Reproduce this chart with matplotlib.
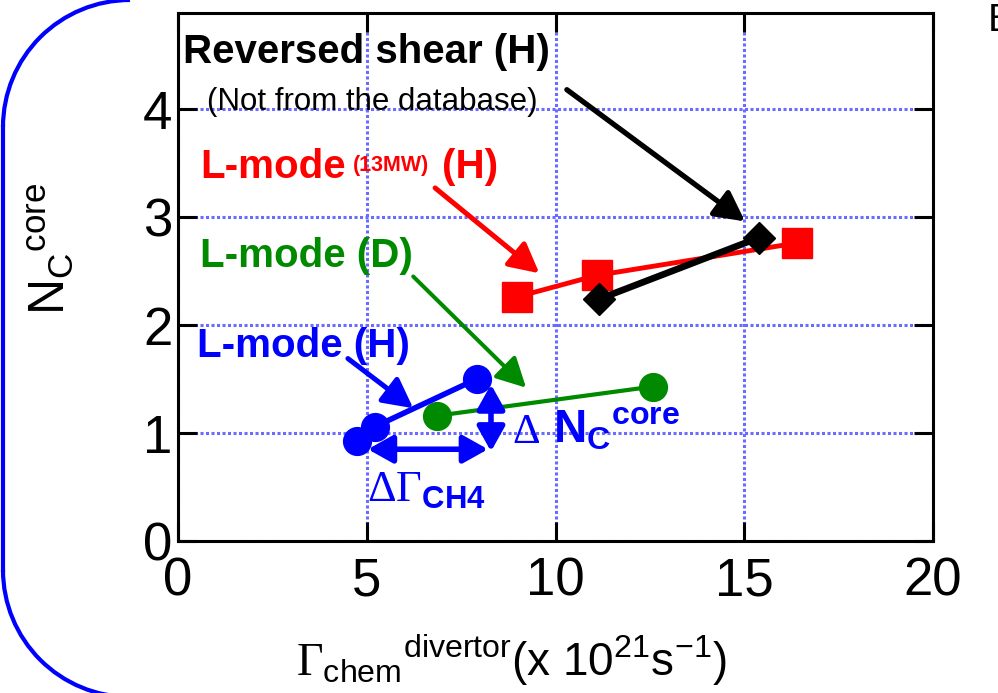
import matplotlib
matplotlib.use('Agg')
import matplotlib.pyplot as plt
from matplotlib.patches import Arc
from matplotlib.lines import Line2D

plt.rcParams['font.family'] = ['Liberation Sans', 'DejaVu Sans']
plt.rcParams['mathtext.fontset'] = 'custom'
plt.rcParams['mathtext.rm'] = 'Liberation Sans'
plt.rcParams['mathtext.bf'] = 'Liberation Sans:bold'
plt.rcParams['mathtext.it'] = 'Liberation Sans:italic'
plt.rcParams['mathtext.sf'] = 'Liberation Serif'

# chemical sputtering flux at divertor (1e21 /s) vs core carbon density
lh_gamma = [4.73, 5.22, 7.91]       # L-mode, H
lh_nc = [0.93, 1.06, 1.50]
ld_gamma = [6.85, 12.57]            # L-mode, D
ld_nc = [1.16, 1.43]
l13_gamma = [8.97, 11.09, 16.39]    # L-mode 13MW, H
l13_nc = [2.26, 2.46, 2.76]
rs_gamma = [11.15, 15.39]           # reversed shear, H
rs_nc = [2.24, 2.81]

x_ticks = [0, 5, 10, 15, 20]
y_ticks = [0, 1, 2, 3, 4]

BLUE = '#0000ff'
GREEN = '#008a00'
RED = '#ff0000'
GRID = '#6b6bff'

fig = plt.figure(figsize=(9.98, 6.93), dpi=100)
ax = fig.add_axes([0.1784, 0.2193, 0.7565, 0.7619])

ax.plot(ld_gamma, ld_nc, '-o', color=GREEN, lw=3, ms=20, zorder=3)
ax.plot(lh_gamma, lh_nc, '-o', color=BLUE, lw=4, ms=20, zorder=4)
ax.plot(l13_gamma, l13_nc, '-s', color=RED, lw=3.5, ms=21, zorder=3)
ax.plot(rs_gamma, rs_nc, '-D', color='black', lw=4.8, ms=16.5, zorder=4)

ax.set_xlim(0, 20)
ax.set_ylim(0, 4.89)
ax.set_xticks(x_ticks)
ax.set_yticks(y_ticks)
ax.tick_params(direction='in', length=14, width=2.2, top=True, right=True,
               labelsize=38)
ax.tick_params(axis='x', pad=11)
ax.tick_params(axis='y', pad=4)
for sp in ax.spines.values():
    sp.set_linewidth(2.2)
ax.grid(True, color=GRID, lw=2.2, ls=(0, (1, 0.8)))
ax.set_axisbelow(True)

ax.set_xlabel(r'$\mathsf{\Gamma}_\mathrm{chem}{}^\mathrm{divertor}$(x 10$^\mathrm{21}$s$^\mathrm{-1}$)',
              fontsize=33)
ax.xaxis.set_label_coords(0.4417, -0.174)
ax.set_ylabel(r'$\mathrm{N_C{}^{core}}$', fontsize=36)
ax.yaxis.set_label_coords(-0.135, 0.553)


def arrow(tail, tip, color, lw, style='-|>', hl=0.9, hw=0.47):
    ax.annotate('', xy=tip, xytext=tail,
                arrowprops=dict(arrowstyle=f'{style},head_length={hl},head_width={hw}',
                                color=color, lw=lw, shrinkA=0, shrinkB=0,
                                mutation_scale=20),
                zorder=5)


# labels and pointers for each series
ax.text(0.13, 4.43, 'Reversed shear (H)', fontsize=29, fontweight='bold')
ax.text(0.77, 3.99, '(Not from the database)', fontsize=22.5)
arrow((10.30, 4.18), (15.02, 2.96), 'black', 3.8)

ax.text(0.58, 3.36, 'L-mode', fontsize=29, fontweight='bold', color=RED)
ax.text(4.64, 3.43, '(13MW)', fontsize=15.5, fontweight='bold', color=RED)
ax.text(6.99, 3.36, '(H)', fontsize=29, fontweight='bold', color=RED)
arrow((6.81, 3.27), (9.57, 2.48), RED, 3.6)

ax.text(0.58, 2.54, 'L-mode (D)', fontsize=29, fontweight='bold', color=GREEN)
arrow((6.23, 2.45), (9.22, 1.42), GREEN, 2.9)

ax.text(0.50, 1.70, 'L-mode (H)', fontsize=29, fontweight='bold', color=BLUE)
arrow((4.50, 1.69), (6.23, 1.23), BLUE, 3.6)

# change in core carbon and in methane flux
arrow((8.29, 0.83), (8.29, 1.45), BLUE, 4, style='<|-|>', hl=0.75, hw=0.42)
arrow((5.03, 0.85), (8.21, 0.85), BLUE, 4, style='<|-|>', hl=0.75, hw=0.42)
ax.text(8.85, 0.91, '\u0394', fontsize=31, family='Liberation Serif', color=BLUE)
ax.text(9.93, 0.91, r'$\mathbf{N_C{}^{core}}$', fontsize=33, color=BLUE)
ax.text(5.01, 0.36, r'$\mathsf{\Delta\Gamma}_\mathbf{CH4}$', fontsize=32, color=BLUE)

# slide frame edge on the left
r = 1.27
fig.add_artist(Arc((1.30, 6.93 - r), 2 * r, 2 * r, theta1=90, theta2=180,
                   transform=fig.dpi_scale_trans, color=BLUE, lw=3))
fig.add_artist(Arc((1.30, 1.23), 2 * r, 2 * r, theta1=180, theta2=270,
                   transform=fig.dpi_scale_trans, color=BLUE, lw=3))
fig.add_artist(Line2D([0.03, 0.03], [1.23, 6.93 - r],
                      transform=fig.dpi_scale_trans, color=BLUE, lw=3))
fig.text(0.99, 0.995, 'B', fontsize=28, va='top', ha='left')

fig.savefig('out.png', dpi=100)
